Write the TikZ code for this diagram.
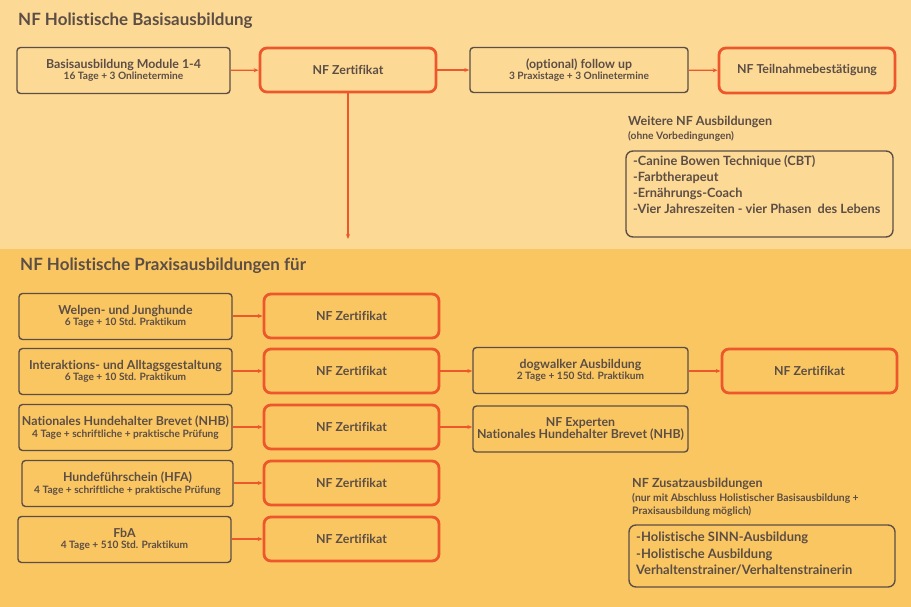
\documentclass[tikz,border=0pt]{standalone}
\usepackage{fontspec}
\setmainfont{Lato}[Ligatures=NoCommon]
\usetikzlibrary{arrows.meta}
\definecolor{bgtop}{RGB}{253,217,150}
\definecolor{bgbot}{RGB}{250,198,98}
\definecolor{ink}{RGB}{92,78,68}
\definecolor{nfor}{RGB}{236,88,44}
\tikzset{
  graybox/.style={draw=ink, line width=1.4pt, rounded corners=3.5pt, text=ink, align=center, inner sep=1pt},
  orbox/.style={draw=nfor, line width=2.8pt, rounded corners=7pt, text=ink, align=center, font=\fontsize{12.4}{14}\selectfont\bfseries, inner sep=1pt},
  conn/.style={draw=nfor, line width=1.2pt, -{Stealth[length=5pt,width=4pt]}},
  ttl/.style={text=ink, font=\fontsize{17}{20}\selectfont\bfseries, anchor=west, inner sep=0pt},
  lbl/.style={text=ink, anchor=north west, inner sep=0pt, align=left},
}
\newcommand{\mainl}[1]{{\fontsize{12.4}{13}\selectfont\bfseries #1}}
\newcommand{\subl}[1]{{\fontsize{10.2}{11}\selectfont\bfseries #1}}
\begin{document}
\begin{tikzpicture}[x=1bp,y=-1bp]
\fill[bgtop] (0,0) rectangle (911,249);
\fill[bgbot] (0,249) rectangle (911,607);
\useasboundingbox (0,0) rectangle (911,607);

\node[ttl] (t1) at (18,21) {NF Holistische Basisausbildung};
\node[graybox, minimum width=213bp, minimum height=46bp] (basis) at (123.5,70.5) {\mainl{Basisausbildung Module 1-4}\\[-0.5pt]\subl{16 Tage + 3 Onlinetermine}};
\node[orbox, minimum width=176bp, minimum height=44bp] (z0) at (348,70) {NF Zertifikat};
\node[graybox, minimum width=218bp, minimum height=45bp] (follow) at (579,70) {\mainl{(optional) follow up}\\[-0.5pt]\subl{3 Praxistage + 3 Onlinetermine}};
\node[orbox, minimum width=176bp, minimum height=45bp] (teil) at (807,70.5) {NF Teilnahmebestätigung};
\draw[conn] (basis) -- (z0);
\draw[conn] (z0) -- (follow);
\draw[conn] (follow) -- (teil);
\coordinate (down) at (348,239);
\draw[conn] (z0.south) -- (down);

\node[lbl, font=\fontsize{12.6}{14}\selectfont\bfseries] (wt) at (628,115.5) {Weitere NF Ausbildungen};
\node[lbl, font=\fontsize{10.3}{11}\selectfont\bfseries] (ws) at (628,131.5) {(ohne Vorbedingungen)};
\node[draw=ink, line width=1.4pt, rounded corners=7pt, minimum width=267bp, minimum height=86bp, inner sep=0pt] (wbox) at (759.5,194) {};
\node[lbl, font=\fontsize{12.8}{16.2}\selectfont\bfseries] (wl) at (633,155) {-Canine Bowen Technique (CBT)\\-Farbtherapeut\\-Ernährungs-Coach\\-Vier Jahreszeiten - vier Phasen\ \ des Lebens};

\node[ttl] (t2) at (20,266) {NF Holistische Praxisausbildungen für};

\node[graybox, minimum width=213bp, minimum height=46bp] (r1) at (125.5,316.5) {\mainl{Welpen- und Junghunde}\\[-0.5pt]\subl{6 Tage + 10 Std. Praktikum}};
\node[graybox, minimum width=213bp, minimum height=46bp] (r2) at (125.5,371.5) {\mainl{Interaktions- und Alltagsgestaltung}\\[-0.5pt]\subl{6 Tage + 10 Std. Praktikum}};
\node[graybox, minimum width=213bp, minimum height=46bp] (r3) at (125.5,427.5) {\mainl{Nationales Hundehalter Brevet (NHB)}\\[-0.5pt]\subl{4 Tage + schriftliche + praktische Prüfung}};
\node[graybox, minimum width=211bp, minimum height=46bp] (r4) at (127.5,483.5) {\mainl{Hundeführschein (HFA)}\\[-0.5pt]\subl{4 Tage + schriftliche + praktische Prüfung}};
\node[graybox, minimum width=213bp, minimum height=46bp] (r5) at (124.5,539.5) {\mainl{FbA}\\[-0.5pt]\subl{4 Tage + 510 Std. Praktikum}};

\node[orbox, minimum width=175bp, minimum height=44bp] (z1) at (351.5,316) {NF Zertifikat};
\node[orbox, minimum width=175bp, minimum height=44bp] (z2) at (351.5,371) {NF Zertifikat};
\node[orbox, minimum width=175bp, minimum height=44bp] (z3) at (351.5,427) {NF Zertifikat};
\node[orbox, minimum width=175bp, minimum height=44bp] (z4) at (351.5,483) {NF Zertifikat};
\node[orbox, minimum width=175bp, minimum height=44bp] (z5) at (351.5,539) {NF Zertifikat};

\node[graybox, minimum width=215bp, minimum height=46bp] (dog) at (580.5,370.5) {\mainl{dogwalker Ausbildung}\\[-0.5pt]\subl{2 Tage + 150 Std. Praktikum}};
\node[graybox, minimum width=215bp, minimum height=46bp] (exp) at (580.5,429) {\mainl{NF Experten}\\[1pt]\mainl{Nationales Hundehalter Brevet (NHB)}};
\node[orbox, minimum width=175bp, minimum height=44bp] (z6) at (809.5,371) {NF Zertifikat};

\draw[conn] (r1.east |- z1) -- (z1);
\draw[conn] (r2.east |- z2) -- (z2);
\draw[conn] (r3.east |- z3) -- (z3);
\draw[conn] (r4.east |- z4) -- (z4);
\draw[conn] (r5.east |- z5) -- (z5);
\draw[conn] (z2) -- (z2 -| dog.west);
\draw[conn] (z3) -- (z3 -| exp.west);
\draw[conn] (dog.east |- z6) -- (z6);

\node[lbl, font=\fontsize{12.6}{14}\selectfont\bfseries] (zt) at (632,478) {NF Zusatzausbildungen};
\node[lbl, font=\fontsize{10.4}{13.3}\selectfont\bfseries] (zs) at (632,493) {(nur mit Abschluss Holistischer Basisausbildung +\\Praxisausbildung möglich)};
\node[draw=ink, line width=1.4pt, rounded corners=7pt, minimum width=266bp, minimum height=62bp, inner sep=0pt] (zbox) at (762,556) {};
\node[lbl, font=\fontsize{13}{16.5}\selectfont\bfseries] (zl) at (636,532) {-Holistische SINN-Ausbildung\\-Holistische Ausbildung\\Verhaltenstrainer/Verhaltenstrainerin};
\end{tikzpicture}
\end{document}
